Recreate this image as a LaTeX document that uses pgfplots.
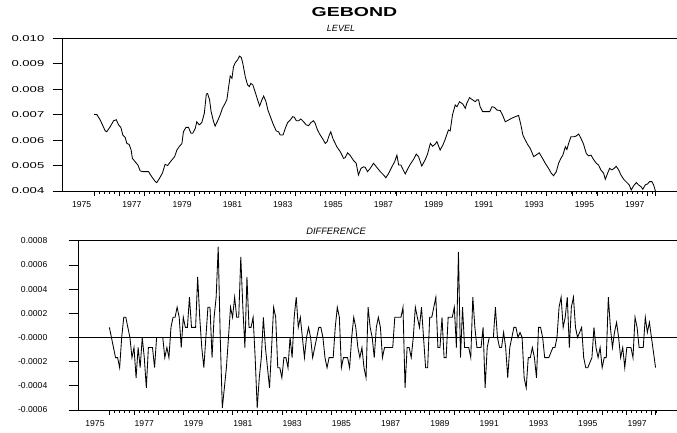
\documentclass[border=0pt]{standalone}
\usepackage{fontspec}
\setmainfont{Liberation Sans}
\usepackage{graphicx}
\usepackage{pgfplots}
\usepackage{pgfplotstable}
\pgfplotsset{compat=1.18}

\pgfplotstableread{
t v
1975.50 0.00701
1975.61 0.00700
1975.74 0.00679
1975.94 0.00636
1976.00 0.00633
1976.14 0.00653
1976.27 0.00676
1976.38 0.00680
1976.47 0.00660
1976.56 0.00650
1976.64 0.00620
1976.73 0.00611
1976.80 0.00587
1976.89 0.00583
1976.97 0.00561
1977.02 0.00528
1977.13 0.00515
1977.24 0.00502
1977.33 0.00479
1977.44 0.00476
1977.66 0.00476
1977.79 0.00456
1977.93 0.00437
1977.99 0.00433
1978.10 0.00450
1978.22 0.00472
1978.32 0.00505
1978.42 0.00500
1978.50 0.00511
1978.59 0.00522
1978.70 0.00535
1978.79 0.00561
1978.88 0.00574
1978.99 0.00587
1979.05 0.00633
1979.15 0.00650
1979.25 0.00650
1979.35 0.00627
1979.42 0.00627
1979.52 0.00646
1979.58 0.00672
1979.68 0.00660
1979.78 0.00669
1979.88 0.00705
1979.96 0.00781
1980.01 0.00783
1980.09 0.00758
1980.15 0.00712
1980.25 0.00672
1980.31 0.00655
1980.41 0.00676
1980.51 0.00699
1980.60 0.00725
1980.71 0.00745
1980.78 0.00760
1980.84 0.00804
1980.91 0.00852
1980.98 0.00843
1981.04 0.00888
1981.11 0.00904
1981.20 0.00915
1981.28 0.00930
1981.35 0.00925
1981.41 0.00902
1981.51 0.00849
1981.60 0.00817
1981.67 0.00810
1981.73 0.00823
1981.81 0.00817
1981.90 0.00790
1982.00 0.00758
1982.08 0.00734
1982.17 0.00758
1982.24 0.00773
1982.33 0.00752
1982.41 0.00718
1982.53 0.00686
1982.63 0.00660
1982.74 0.00636
1982.83 0.00633
1982.90 0.00620
1983.01 0.00620
1983.10 0.00646
1983.19 0.00668
1983.30 0.00679
1983.39 0.00692
1983.46 0.00690
1983.54 0.00676
1983.63 0.00676
1983.72 0.00683
1983.83 0.00672
1983.93 0.00660
1984.03 0.00657
1984.12 0.00669
1984.22 0.00676
1984.29 0.00666
1984.38 0.00640
1984.49 0.00620
1984.60 0.00603
1984.69 0.00587
1984.76 0.00593
1984.85 0.00620
1984.91 0.00633
1984.99 0.00607
1985.15 0.00574
1985.29 0.00554
1985.42 0.00528
1985.48 0.00531
1985.58 0.00550
1985.68 0.00540
1985.82 0.00519
1985.92 0.00509
1986.01 0.00463
1986.11 0.00489
1986.21 0.00495
1986.28 0.00493
1986.37 0.00476
1986.48 0.00489
1986.61 0.00509
1986.74 0.00493
1986.88 0.00476
1987.01 0.00463
1987.10 0.00452
1987.21 0.00469
1987.34 0.00495
1987.45 0.00515
1987.54 0.00541
1987.61 0.00502
1987.70 0.00502
1987.78 0.00485
1987.87 0.00467
1987.96 0.00485
1988.07 0.00505
1988.20 0.00524
1988.31 0.00545
1988.40 0.00535
1988.53 0.00498
1988.67 0.00524
1988.76 0.00546
1988.87 0.00587
1988.96 0.00576
1989.06 0.00584
1989.13 0.00594
1989.26 0.00561
1989.37 0.00581
1989.46 0.00603
1989.59 0.00640
1989.66 0.00636
1989.75 0.00699
1989.86 0.00738
1989.93 0.00731
1990.03 0.00751
1990.16 0.00742
1990.26 0.00725
1990.32 0.00745
1990.43 0.00767
1990.52 0.00760
1990.66 0.00751
1990.72 0.00758
1990.79 0.00758
1990.85 0.00731
1990.95 0.00712
1991.12 0.00712
1991.23 0.00712
1991.32 0.00731
1991.41 0.00729
1991.52 0.00718
1991.65 0.00716
1991.74 0.00699
1991.85 0.00672
1991.98 0.00679
1992.11 0.00686
1992.25 0.00692
1992.38 0.00697
1992.47 0.00660
1992.55 0.00620
1992.64 0.00601
1992.75 0.00581
1992.84 0.00568
1992.98 0.00535
1993.07 0.00541
1993.20 0.00550
1993.31 0.00532
1993.44 0.00509
1993.57 0.00489
1993.68 0.00470
1993.77 0.00460
1993.88 0.00476
1993.97 0.00509
1994.06 0.00528
1994.14 0.00541
1994.24 0.00574
1994.30 0.00563
1994.37 0.00587
1994.46 0.00613
1994.57 0.00613
1994.67 0.00616
1994.77 0.00624
1994.86 0.00607
1994.96 0.00585
1995.07 0.00548
1995.16 0.00538
1995.26 0.00541
1995.36 0.00524
1995.47 0.00509
1995.56 0.00502
1995.65 0.00483
1995.76 0.00470
1995.83 0.00446
1995.92 0.00470
1996.00 0.00489
1996.09 0.00483
1996.18 0.00489
1996.26 0.00497
1996.36 0.00483
1996.45 0.00463
1996.56 0.00446
1996.69 0.00433
1996.78 0.00424
1996.86 0.00404
1996.95 0.00420
1997.06 0.00433
1997.15 0.00424
1997.25 0.00417
1997.32 0.00407
1997.42 0.00424
1997.51 0.00428
1997.59 0.00437
1997.68 0.00437
1997.75 0.00424
1997.82 0.00400
}\levdata

\pgfplotstableread{
t v
1975.583 8.33e-5
1975.667 0
1975.750 -8.33e-5
1975.833 -1.667e-4
1975.917 -1.667e-4
1976.000 -2.5e-4
1976.083 0
1976.167 1.667e-4
1976.250 1.667e-4
1976.333 8.33e-5
1976.417 0
1976.500 -1.667e-4
1976.583 -8.33e-5
1976.667 -3.333e-4
1976.750 -8.33e-5
1976.833 -2.5e-4
1976.917 0
1977.000 -1.667e-4
1977.083 -4.167e-4
1977.167 -8.33e-5
1977.250 -8.33e-5
1977.333 -8.33e-5
1977.417 -2.5e-4
1977.500 0
1977.583 0
1977.667 0
1977.750 0
1977.833 -1.667e-4
1977.917 -8.33e-5
1978.000 -1.667e-4
1978.083 8.33e-5
1978.167 1.667e-4
1978.250 1.667e-4
1978.333 2.5e-4
1978.417 1.667e-4
1978.500 -8.33e-5
1978.583 1.667e-4
1978.667 8.33e-5
1978.750 8.33e-5
1978.833 3.333e-4
1978.917 8.33e-5
1979.000 8.33e-5
1979.083 8.33e-5
1979.167 5e-4
1979.250 1.667e-4
1979.333 -8.33e-5
1979.417 -2.5e-4
1979.500 0
1979.583 2.5e-4
1979.667 2.5e-4
1979.750 -1.667e-4
1979.833 1.667e-4
1979.917 3.333e-4
1980.000 7.5e-4
1980.083 0
1980.167 -5.833e-4
1980.250 -4.167e-4
1980.333 -2.5e-4
1980.417 0
1980.500 2.5e-4
1980.583 1.667e-4
1980.667 3.333e-4
1980.750 1.667e-4
1980.833 1.667e-4
1980.917 6.667e-4
1981.000 2.5e-4
1981.083 -8.33e-5
1981.167 5e-4
1981.250 8.33e-5
1981.333 8.33e-5
1981.417 1.667e-4
1981.500 -1.667e-4
1981.583 -5.833e-4
1981.667 -3.333e-4
1981.750 -1.667e-4
1981.833 1.667e-4
1981.917 -8.33e-5
1982.000 -2.5e-4
1982.083 -4.167e-4
1982.167 -8.33e-5
1982.250 2.5e-4
1982.333 1.667e-4
1982.417 -2.5e-4
1982.500 -2.5e-4
1982.583 -3.333e-4
1982.667 -1.667e-4
1982.750 -1.667e-4
1982.833 -2.5e-4
1982.917 0
1983.000 -1.667e-4
1983.083 1.667e-4
1983.167 3.333e-4
1983.250 8.33e-5
1983.333 1.667e-4
1983.417 0
1983.500 -1.667e-4
1983.583 0
1983.667 8.33e-5
1983.750 0
1983.833 -1.667e-4
1983.917 -8.33e-5
1984.000 0
1984.083 8.33e-5
1984.167 8.33e-5
1984.250 0
1984.333 -1.667e-4
1984.417 -2.5e-4
1984.500 -1.667e-4
1984.583 -1.667e-4
1984.667 -1.667e-4
1984.750 8.33e-5
1984.833 2.5e-4
1984.917 1.667e-4
1985.000 -2.5e-4
1985.083 -1.667e-4
1985.167 -1.667e-4
1985.250 -1.667e-4
1985.333 -2.5e-4
1985.417 0
1985.500 1.667e-4
1985.583 8.33e-5
1985.667 -8.33e-5
1985.750 -1.667e-4
1985.833 -8.33e-5
1985.917 -2.5e-4
1986.000 -3.333e-4
1986.083 2.5e-4
1986.167 8.33e-5
1986.250 0
1986.333 -1.667e-4
1986.417 8.33e-5
1986.500 1.667e-4
1986.583 8.33e-5
1986.667 -1.667e-4
1986.750 -8.33e-5
1986.833 -8.33e-5
1986.917 -8.33e-5
1987.000 -8.33e-5
1987.083 -8.33e-5
1987.167 1.667e-4
1987.250 1.667e-4
1987.333 1.667e-4
1987.417 1.667e-4
1987.500 2.5e-4
1987.583 -4.167e-4
1987.667 -8.33e-5
1987.750 -8.33e-5
1987.833 -1.667e-4
1987.917 0
1988.000 2.5e-4
1988.083 1.667e-4
1988.167 8.33e-5
1988.250 2.5e-4
1988.333 0
1988.417 -2.5e-4
1988.500 -2.5e-4
1988.583 1.667e-4
1988.667 1.667e-4
1988.750 2.5e-4
1988.833 3.333e-4
1988.917 -8.33e-5
1989.000 -8.33e-5
1989.083 1.667e-4
1989.167 -1.667e-4
1989.250 -1.667e-4
1989.333 1.667e-4
1989.417 1.667e-4
1989.500 1.667e-4
1989.583 2.5e-4
1989.667 -8.33e-5
1989.750 7.08e-4
1989.833 -1.667e-4
1989.917 2.5e-4
1990.000 -8.33e-5
1990.083 -8.33e-5
1990.167 -8.33e-5
1990.250 -1.667e-4
1990.333 3.333e-4
1990.417 8.33e-5
1990.500 -8.33e-5
1990.583 -8.33e-5
1990.667 -8.33e-5
1990.750 8.33e-5
1990.833 -4.167e-4
1990.917 -8.33e-5
1991.000 0
1991.083 0
1991.167 0
1991.250 2.5e-4
1991.333 0
1991.417 -8.33e-5
1991.500 -8.33e-5
1991.583 4.17e-5
1991.667 -8.33e-5
1991.750 -3.333e-4
1991.833 -8.33e-5
1991.917 0
1992.000 8.33e-5
1992.083 8.33e-5
1992.167 0
1992.250 4.17e-5
1992.333 0
1992.417 -3.333e-4
1992.500 -4.167e-4
1992.583 -1.667e-4
1992.667 -1.667e-4
1992.750 -8.33e-5
1992.833 -1.667e-4
1992.917 -3.333e-4
1993.000 8.33e-5
1993.083 8.33e-5
1993.167 0
1993.250 -1.667e-4
1993.333 -1.667e-4
1993.417 -1.667e-4
1993.500 -1.25e-4
1993.583 -8.33e-5
1993.667 -8.33e-5
1993.750 0
1993.833 2.5e-4
1993.917 3.333e-4
1994.000 8.33e-5
1994.083 1.667e-4
1994.167 3.333e-4
1994.250 -8.33e-5
1994.333 2.5e-4
1994.417 3.333e-4
1994.500 8.33e-5
1994.583 0
1994.667 4.17e-5
1994.750 8.33e-5
1994.833 -1.667e-4
1994.917 -2.5e-4
1995.000 -2.5e-4
1995.083 -2.083e-4
1995.167 -1.667e-4
1995.250 8.33e-5
1995.333 -8.33e-5
1995.417 -1.667e-4
1995.500 -8.33e-5
1995.583 -2.5e-4
1995.667 -1.667e-4
1995.750 -1.667e-4
1995.833 3.333e-4
1995.917 8.33e-5
1996.000 -8.33e-5
1996.083 4.17e-5
1996.167 1.25e-4
1996.250 0
1996.333 -1.667e-4
1996.417 -8.33e-5
1996.500 -2.5e-4
1996.583 -8.33e-5
1996.667 -8.33e-5
1996.750 -8.33e-5
1996.833 -1.667e-4
1996.917 1.667e-4
1997.000 8.33e-5
1997.083 -8.33e-5
1997.167 -8.33e-5
1997.250 -8.33e-5
1997.333 1.667e-4
1997.417 4.17e-5
1997.500 1.25e-4
1997.583 0
1997.667 -1.25e-4
1997.750 -2.5e-4
}\difdata

\pgfplotsset{
  gstyle/.style={
    scale only axis,
    clip mode=individual,
    axis x line*=box, axis y line*=left,
    xtick pos=left, ytick pos=left,
    tick align=outside,
    major tick length=9.5pt,
    minor tick length=2.7pt,
    axis line style={line width=0.85pt},
    every tick/.style={black, line width=0.65pt},
    major x tick style={draw=none},
    xtick={1975,1977,1979,1981,1983,1985,1987,1989,1991,1993,1995,1997},
    xticklabels={1975,1977,1979,1981,1983,1985,1987,1989,1991,1993,1995,1997},
    xticklabel style={yshift=3pt},
    scaled y ticks=false,
    ticklabel style={font=\fontsize{8.6}{10}\selectfont},
  }
}

\begin{document}
\begin{tikzpicture}
\path[use as bounding box] (0pt,0pt) rectangle (677pt,-432pt);
\node[anchor=base, inner sep=0pt] at (354.5pt,-16pt) {\scalebox{1.5}[1]{\fontsize{13}{15}\selectfont\bfseries GEBOND}};
\node[anchor=base, inner sep=0pt] at (341pt,-31.7pt) {\fontsize{9}{10}\selectfont\itshape LEVEL};
\node[anchor=base, inner sep=0pt] at (336pt,-234.3pt) {\fontsize{9.3}{10}\selectfont\itshape DIFFERENCE};

\begin{axis}[gstyle,
  at={(62pt,-191pt)}, anchor=south west,
  width=615pt, height=152.7pt,
  xmin=1974.22, xmax=1998.68, ymin=0.004, ymax=0.010,
  minor xtick={1975.7,1975.9,...,1997.7},
  ytick={0.004,0.005,0.006,0.007,0.008,0.009,0.010},
  yticklabels={\scalebox{1.52}[1]{0.004},\scalebox{1.52}[1]{0.005},\scalebox{1.52}[1]{0.006},\scalebox{1.52}[1]{0.007},\scalebox{1.52}[1]{0.008},\scalebox{1.52}[1]{0.009},\scalebox{1.52}[1]{0.010}},
  yticklabel style={xshift=-4.7pt},
]
\addplot[black, line width=0.85pt, no markers] table[x=t, y=v] {\levdata};
\pgfplotsinvokeforeach{1975.5,1976.5,...,1997.5}{\draw[line width=0.65pt] (axis cs:#1,0.004) -- ++(0pt,-5pt);}
\draw[line width=0.65pt] (axis cs:1997.82,0.004) -- ++(0pt,-5pt);
\end{axis}

\begin{axis}[gstyle,
  at={(78pt,-410pt)}, anchor=south west,
  width=599pt, height=169.3pt,
  xmin=1974.31, xmax=1998.62, ymin=-0.0006, ymax=0.0008,
  minor xtick={1975.783,1975.983,...,1997.7},
  ytick={-0.0006,-0.0004,-0.0002,0,0.0002,0.0004,0.0006,0.0008},
  yticklabels={-0.0006,-0.0004,-0.0002,-0.0000,0.0002,0.0004,0.0006,0.0008},
  yticklabel style={xshift=-17.7pt},
]
\draw[line width=0.8pt] (axis cs:1974.31,0) -- (axis cs:1998.62,0);
\addplot[black, line width=0.85pt, no markers] table[x=t, y=v] {\difdata};
\pgfplotsinvokeforeach{1975.583,1976.583,...,1997.583}{\draw[line width=0.65pt] (axis cs:#1,-0.0006) -- ++(0pt,-5pt);}
\draw[line width=0.65pt] (axis cs:1997.75,-0.0006) -- ++(0pt,-5pt);
\end{axis}
\end{tikzpicture}
\end{document}
